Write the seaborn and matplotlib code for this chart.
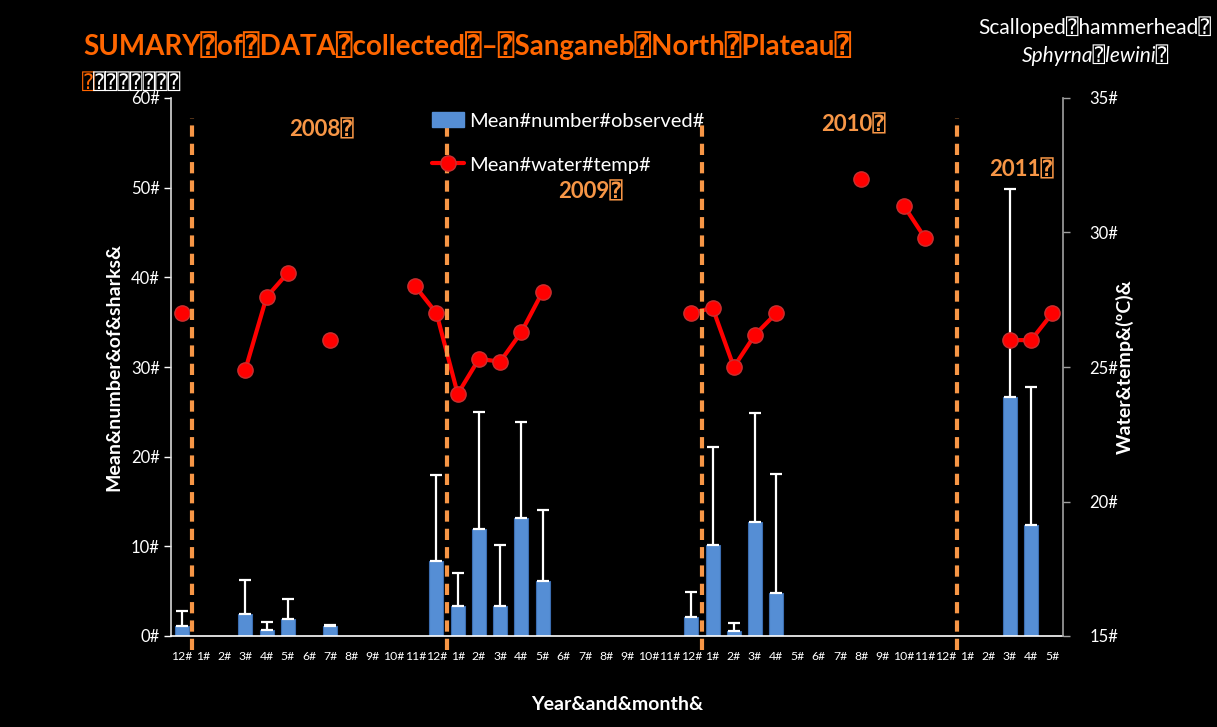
import numpy as np
import pandas as pd
import matplotlib
matplotlib.use("Agg")
import matplotlib.pyplot as plt
from matplotlib.patches import Patch
from matplotlib.lines import Line2D
import seaborn as sns

# ---- data -------------------------------------------------------------
month_labels = ["12#",
                "1#", "2#", "3#", "4#", "5#", "6#", "7#", "8#", "9#", "10#", "11#", "12#",
                "1#", "2#", "3#", "4#", "5#", "6#", "7#", "8#", "9#", "10#", "11#", "12#",
                "1#", "2#", "3#", "4#", "5#", "6#", "7#", "8#", "9#", "10#", "11#", "12#",
                "1#", "2#", "3#", "4#", "5#"]

nan = np.nan
mean_observed = [1.1,
                 nan, 0.0, 2.4, 0.7, 1.9, 0.0, 1.1, nan, nan, 0.0, 0.0, 8.4,
                 3.4, 11.9, 3.3, 13.2, 6.1, nan, nan, nan, nan, nan, nan, 2.1,
                 10.1, 0.6, 12.7, 4.8, 0.0, nan, nan, 0.0, nan, 0.0, 0.0, nan,
                 nan, nan, 26.7, 12.4, 0.0]

observed_sd = [1.7,
               nan, nan, 3.9, 0.9, 2.2, nan, 0.1, nan, nan, nan, nan, 9.55,
               3.6, 13.1, 6.9, 10.7, 8.0, nan, nan, nan, nan, nan, nan, 2.85,
               11.0, 0.8, 12.2, 13.3, nan, nan, nan, nan, nan, nan, nan, nan,
               nan, nan, 23.1, 15.4, nan]

water_temp = [27.0,
              nan, nan, 24.9, 27.6, 28.5, nan, 26.0, nan, nan, nan, 28.0, 27.0,
              24.0, 25.3, 25.2, 26.3, 27.8, nan, nan, nan, nan, nan, nan, 27.0,
              27.2, 25.0, 26.2, 27.0, nan, nan, nan, 32.0, nan, 31.0, 29.8, nan,
              nan, nan, 26.0, 26.0, 27.0]

year_labels = ["2008⍰", "2009⍰", "2010⍰", "2011⍰"]
# first month index of each new year (January)
year_starts = [1, 13, 25, 37]

# ---- styling ----------------------------------------------------------
sns.set_style("dark")
FAM = ["Lato", "DejaVu Sans", "DejaVu Sans Mono"]
plt.rcParams["font.family"] = FAM
plt.rcParams["axes.unicode_minus"] = False

BG = "black"
BAR = "#558ED5"
ORANGE = "#F79646"
TITLE_ORANGE = "#FF6600"
RED = "#FF0000"

pos = np.arange(len(month_labels))
df = pd.DataFrame({"pos": pos, "obs": mean_observed, "sd": observed_sd,
                   "temp": water_temp})
# contiguous runs of temperature readings are drawn as separate lines
has_t = df["temp"].notna()
df["seg"] = (has_t != has_t.shift()).cumsum()

fig = plt.figure(figsize=(12.17, 7.27), dpi=100, facecolor=BG)
ax = fig.add_axes([171 / 1217, 1 - 636 / 727, (1063 - 171) / 1217, (636 - 98) / 727])
ax.set_facecolor(BG)

sns.barplot(data=df, x="pos", y="obs", order=list(pos), color=BAR, width=0.66,
            saturation=1, edgecolor="#3B6DB0", linewidth=0.8, errorbar=None,
            ax=ax, zorder=2)

err = df.dropna(subset=["sd"])
ax.errorbar(err["pos"], err["obs"], yerr=[np.zeros(len(err)), err["sd"]],
            fmt="none", ecolor="white", elinewidth=1.6, capsize=4, capthick=1.6,
            zorder=3)

ax.set_ylim(0, 60)
ax.set_yticks(np.arange(0, 61, 10))
ax.set_yticklabels([f"{v}#" for v in range(0, 61, 10)])
ax.set_xlim(-0.5, len(pos) - 0.5)
ax.set_xticks(pos)
ax.set_xticklabels(month_labels)
ax.set_xticks(np.arange(-0.5, len(pos), 1.0), minor=True)
ax.tick_params(axis="x", which="major", length=0, colors="white", labelsize=8.8, pad=11)
ax.tick_params(axis="x", which="minor", length=5, width=1, color="white", direction="out")
ax.tick_params(axis="y", length=5, width=1, color="white", labelcolor="white",
               labelsize=12, direction="out", pad=3)
ax.grid(False)
for side in ["top", "right"]:
    ax.spines[side].set_visible(False)
ax.spines["left"].set_color("#D9D9D9")
ax.spines["bottom"].set_color("white")
ax.spines["left"].set_linewidth(1.2)
ax.spines["bottom"].set_linewidth(1.2)
ax.set_xlabel("Year&and&month&", color="white", fontsize=14, fontweight="bold", labelpad=24)
ax.set_ylabel("Mean&number&of&sharks&", color="white", fontsize=14, fontweight="bold",
              labelpad=6)

# ---- temperature on the secondary axis --------------------------------
ax2 = ax.twinx()
ax2.set_facecolor("none")
sns.lineplot(data=df.dropna(subset=["temp"]), x="pos", y="temp", units="seg",
             estimator=None, color=RED, linewidth=3, marker="o", markersize=11,
             markerfacecolor=RED, markeredgecolor="#C83030", markeredgewidth=1,
             ax=ax2, zorder=4, legend=False)
ax2.set_ylim(15, 35)
ax2.set_yticks([15, 20, 25, 30, 35])
ax2.set_yticklabels([f"{v}#" for v in [15, 20, 25, 30, 35]])
ax2.tick_params(axis="y", length=5, width=1, color="#A0A0A0", labelcolor="white",
                labelsize=12, direction="out", pad=14)
ax2.grid(False)
for side in ["top", "left", "bottom"]:
    ax2.spines[side].set_visible(False)
ax2.spines["right"].set_color("#A0A0A0")
ax2.spines["right"].set_linewidth(1.2)
ax2.set_ylabel("Water&temp&(ºC)&", color="white", fontsize=14, fontweight="bold",
               labelpad=-2)
ax2.set_xlim(-0.5, len(pos) - 0.5)

# year boundaries
for s in year_starts:
    ax2.axvline(s - 0.5, ymin=-0.026, ymax=0.963, color=ORANGE, linewidth=3,
                linestyle=(0, (2.7, 1.7)), clip_on=False, zorder=5)

# year labels
year_xy = [(322, 130), (590, 192), (853, 125), (1022, 170)]
for lab, (px, py) in zip(year_labels, year_xy):
    fig.text(px / 1217, 1 - py / 727, lab, color=ORANGE, fontsize=16,
             fontweight="bold", ha="center", va="center", family=FAM)

# legend
handles = [Patch(facecolor=BAR, edgecolor=BAR),
           Line2D([], [], color=RED, linewidth=3, marker="o", markersize=11,
                  markerfacecolor=RED, markeredgecolor="#C83030")]
fig.legend(handles, ["Mean#number#observed#", "Mean#water#temp#"],
           loc="upper left", bbox_to_anchor=(432 / 1217, 1 - 112 / 727),
           frameon=False, labelcolor="white", fontsize=14.5, handlelength=1.6,
           handleheight=0.8, labelspacing=1.3, handletextpad=0.25, borderaxespad=0,
           borderpad=0)

# titles
fig.text(83 / 1217, 1 - 46 / 727, "SUMARY⍰of⍰DATA⍰collected⍰–⍰Sanganeb⍰North⍰Plateau⍰",
         color=TITLE_ORANGE, fontsize=20, fontweight="bold", ha="left", va="center",
         family=FAM)
fig.text(82 / 1217, 1 - 83 / 727, "⍰", color=TITLE_ORANGE, fontsize=15,
         ha="left", va="center", family=FAM)
fig.text(93 / 1217, 1 - 83 / 727, "⍰⍰⍰⍰⍰⍰⍰", color="white", fontsize=15,
         ha="left", va="center", family=FAM)
fig.text(1095 / 1217, 1 - 27 / 727, "Scalloped⍰hammerhead⍰", color="white",
         fontsize=15, ha="center", va="center", family=FAM)
fig.text(1095 / 1217, 1 - 55 / 727, "Sphyrna⍰lewini⍰", color="white",
         fontsize=15, style="italic", ha="center", va="center", family=FAM)

fig.savefig("out.png", dpi=100, facecolor=BG)
